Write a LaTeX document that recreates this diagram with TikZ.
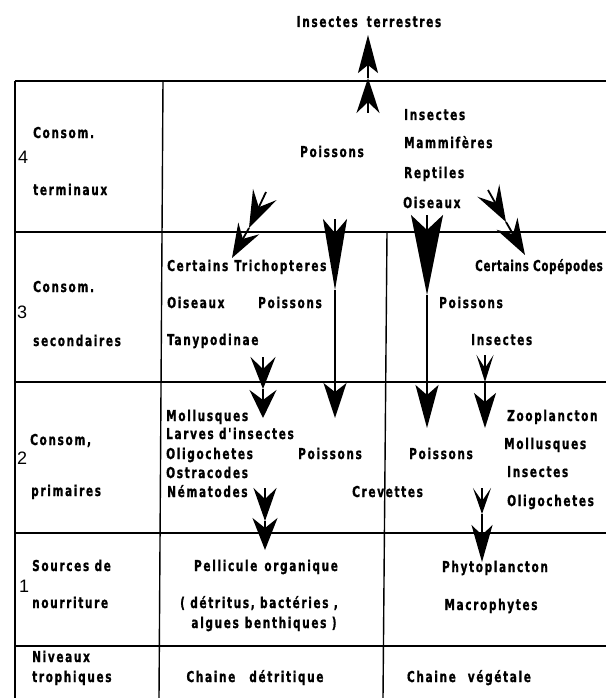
\documentclass[tikz,border=0pt]{standalone}
\usepackage{fontspec}
\newfontfamily\lbl{DejaVu Sans Condensed Bold}[FakeStretch=0.78,LetterSpace=11,FakeBold=1]
\newfontfamily\lbltight{DejaVu Sans Condensed Bold}[FakeStretch=0.76,LetterSpace=5,FakeBold=1]
\newfontfamily\numf{Liberation Sans}
\usetikzlibrary{arrows.meta}
\begin{document}
\begin{tikzpicture}[x=1pt,y=-1pt,
  grid/.style={line width=1.4pt},
  txt/.style={font=\lbl\fontsize{15}{15}\selectfont, inner sep=0pt, anchor=base west},
  ctxt/.style={txt, anchor=base},
  num/.style={font=\numf\fontsize{18}{18}\selectfont, inner sep=0pt, anchor=base west},
  shaft/.style={line width=1.8pt},
  hd/.style n args={3}{shaft, -{Stealth[length=#1pt,width=#2pt,inset=#3pt]}}
]
\useasboundingbox (0,0) rectangle (606,698);
% table
\coordinate (tl) at (15,81);   \coordinate (tr) at (606,81);
\coordinate (r3l) at (15,232); \coordinate (r3r) at (606,232);
\coordinate (r2l) at (15,382); \coordinate (r2r) at (606,382);
\coordinate (r1l) at (15,533); \coordinate (r1r) at (606,533);
\coordinate (r0l) at (15,646); \coordinate (r0r) at (606,646);
\coordinate (bl) at (15,698);
\coordinate (c1t) at (163,81); \coordinate (c1b) at (159,698);
\coordinate (c2t) at (387,232); \coordinate (c2b) at (383,698);
\draw[grid] (tl) -- (tr);
\draw[grid] (r3l) -- (r3r);
\draw[grid] (r2l) -- (r2r);
\draw[grid] (r1l) -- (r1r);
\draw[grid] (r0l) -- (r0r);
\draw[grid] (tl) -- (bl);
\draw[grid] (c1t) -- (c1b);
\draw[grid] (c2t) -- (c2b);

% top
\node[ctxt] (it) at (369,27) {Insectes\hspace{9pt}terrestres};

% row 4
\node[txt] (c4) at (33,138) {Consom.};
\node[num] (n4) at (18,163) {4};
\node[txt] (t4) at (33,195) {terminaux};
\node[ctxt] (p4) at (332,157) {Poissons};
\node[txt] (i4) at (404,120) {Insectes};
\node[txt] (m4) at (404,148) {Mammifères};
\node[txt] (rp4) at (404,178) {Reptiles};
\node[txt] (o4) at (403,208) {Oiseaux};

% row 3
\node[txt] (c3) at (33,292) {Consom.};
\node[num] (n3) at (17,318) {3};
\node[txt] (s3) at (33,346) {secondaires};
\node[txt] (ct3) at (167,271) {Certains\hspace{6pt}Trichopteres};
\node[txt] (o3) at (167,308) {Oiseaux};
\node[txt] (p3a) at (258,308) {Poissons};
\node[txt] (ty3) at (167,345) {Tanypodinae};
\node[txt, font=\lbltight\fontsize{15}{15}\selectfont, anchor=base east] (cc3) at (603,271) {Certains Copépodes};
\node[txt] (p3b) at (439,308) {Poissons};
\node[txt] (i3) at (471,345) {Insectes};

% row 2
\node[txt] (c2) at (30,445) {Consom,};
\node[num] (n2) at (17,464) {2};
\node[txt] (pr2) at (31,496) {primaires};
\node[txt] (mo2) at (166,421) {Mollusques};
\node[txt] (la2) at (166,439) {Larves d'insectes};
\node[txt] (ol2) at (166,459) {Oligochetes};
\node[txt] (os2) at (166,478) {Ostracodes};
\node[txt] (ne2) at (167,497) {Nématodes};
\node[txt] (p2a) at (298,459) {Poissons};
\node[txt] (p2b) at (409,459) {Poissons};
\node[txt] (cr2) at (352,497) {Crevettes};
\node[txt] (zo2) at (507,421) {Zooplancton};
\node[txt] (mo2b) at (504,449) {Mollusques};
\node[txt] (in2) at (507,477) {Insectes};
\node[txt] (ol2b) at (507,506) {Oligochetes};

% row 1
\node[txt] (so1) at (32,571) {Sources de};
\node[num] (n1) at (19,592) {1};
\node[txt] (no1) at (32,608) {nourriture};
\node[ctxt] (pe1) at (266,571) {Pellicule\hspace{7pt}organique};
\node[ctxt] (de1) at (259,608) {( détritus, bactéries ,};
\node[ctxt] (al1) at (264,628) {algues\hspace{6pt}benthiques )};
\node[ctxt] (ph1) at (495,572) {Phytoplancton};
\node[ctxt] (ma1) at (491,610) {Macrophytes};

% bottom row
\node[txt] (ni0) at (32,662) {Niveaux};
\node[txt] (tr0) at (32,682) {trophiques};
\node[ctxt] (cd0) at (255,682) {Chaine\hspace{14pt}détritique};
\node[ctxt] (cv0) at (469,682) {Chaine\hspace{12pt}végétale};

% arrows
\coordinate (a1s) at (368,113); \coordinate (a1m) at (368,78); \coordinate (a1e) at (368,35);
\draw[hd={35}{23}{11}] (a1s) -- (a1m);
\draw[hd={38}{20}{8}] (a1m) -- (a1e);

\coordinate (a2s) at (266,192); \coordinate (a2m) at (249,228); \coordinate (a2e) at (232,258);
\draw[hd={37}{26}{14}] (a2s) -- (a2m);
\draw[hd={34}{24}{12}] (a2m) -- (a2e);

\coordinate (a3s) at (488,190); \coordinate (a3m) at (506,222); \coordinate (a3e) at (525,255);
\draw[hd={36}{25}{14}] (a3s) -- (a3m);
\draw[hd={36}{24}{12}] (a3m) -- (a3e);

\coordinate (a4s) at (335,219); \coordinate (a4m) at (335,290); \coordinate (a4e) at (335,418);
\draw[hd={71}{24}{14}] (a4s) -- (a4m);
\draw[hd={35}{23}{9}] (a4m) -- (a4e);

\coordinate (a5s) at (427,215); \coordinate (a5m) at (427,295); \coordinate (a5e) at (427,428);
\draw[hd={80}{32}{15}] (a5s) -- (a5m);
\draw[hd={43}{23}{10}] (a5m) -- (a5e);

\coordinate (a6s) at (263,357); \coordinate (a6m) at (263,389); \coordinate (a6e) at (263,418);
\draw[hd={32}{25}{12}] (a6s) -- (a6m);
\draw[hd={28}{27}{10}] (a6m) -- (a6e);

\coordinate (a7s) at (485,355); \coordinate (a7m) at (485,382); \coordinate (a7e) at (485,428);
\draw[hd={27}{17}{13}] (a7s) -- (a7m);
\draw[hd={35}{22}{9}] (a7m) -- (a7e);

\coordinate (a8s) at (265,488); \coordinate (a8m) at (265,521); \coordinate (a8e) at (265,550);
\draw[hd={33}{23}{11}] (a8s) -- (a8m);
\draw[hd={32}{25}{10}] (a8m) -- (a8e);

\coordinate (a9s) at (482,488); \coordinate (a9m) at (482,514); \coordinate (a9e) at (482,562);
\draw[hd={26}{18}{13}] (a9s) -- (a9m);
\draw[hd={37}{21}{10}] (a9m) -- (a9e);
\end{tikzpicture}
\end{document}
